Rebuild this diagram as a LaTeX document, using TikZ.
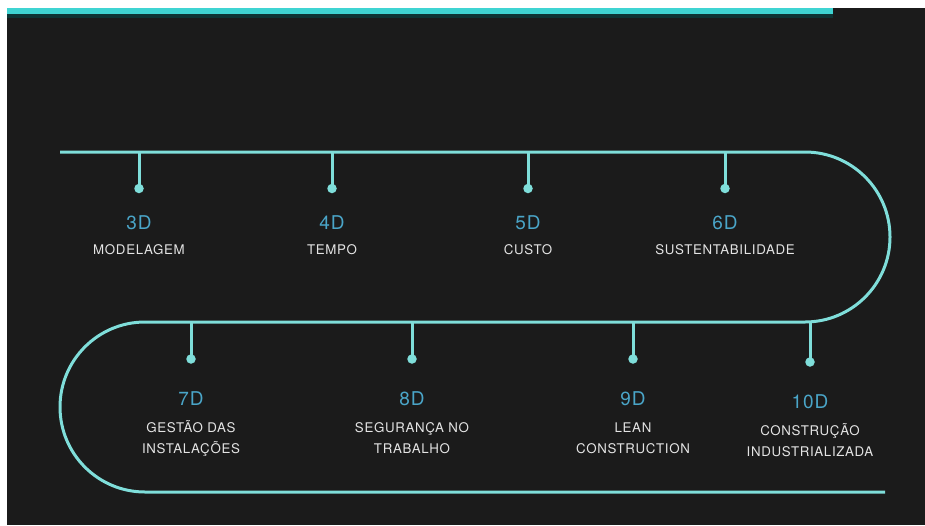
\documentclass[tikz,border=0pt]{standalone}
\usepackage{fontspec}
\setmainfont{TeX Gyre Heros}[LetterSpace=5]
\definecolor{bgdark}{HTML}{1B1B1B}
\definecolor{barcyan}{HTML}{3FD4D2}
\definecolor{barshadow}{HTML}{0E3434}
\definecolor{linecyan}{HTML}{7FDEDA}
\definecolor{numblue}{HTML}{4AA5C8}
\definecolor{labelgrey}{HTML}{E4E4E4}
\tikzset{
  track/.style={draw=linecyan, line width=3pt},
  tick/.style={draw=linecyan, line width=3pt},
  dotnode/.style={circle, fill=linecyan, inner sep=0pt, minimum size=9.5pt},
  numlabel/.style={anchor=base, inner sep=0pt, text=numblue, font=\fontsize{19}{21}\selectfont},
  namelabel/.style={anchor=base, inner sep=0pt, text=labelgrey, align=center, font=\fontsize{13.3}{21}\selectfont},
}
\begin{document}
\begin{tikzpicture}[x=1pt, y=-1pt]
\useasboundingbox (0,0) rectangle (925,525);
\fill[white] (0,0) rectangle (925,525);
\fill[bgdark] (7,8) rectangle (925,525);
\fill[barshadow] (7,14) rectangle (833,17.5);
\fill[barcyan] (7,8) rectangle (833,14);
% main track
\draw[track] (60,152) -- (805,152) arc[start angle=-90, end angle=90, radius=85]
  -- (145,322) arc[start angle=-90, end angle=-270, radius=85] -- (885,492);
% top row
\foreach \n/\x/\num/\lab in {a/139/3D/MODELAGEM, b/332/4D/TEMPO, c/528/5D/CUSTO, d/725/6D/SUSTENTABILIDADE}{
  \coordinate (top\n) at (\x,152);
  \node[dotnode] (dot\n) at (\x,188.5) {};
  \draw[tick] (top\n) -- (dot\n.center);
  \node[numlabel] (num\n) at (\x,229) {\num};
  \node[namelabel] (lab\n) at (\x,254.5) {\lab};
}
% bottom row (name base = last line baseline)
\foreach \n/\x/\dy/\ny/\ly/\num/\lab in {
  e/191/359/405.5/453/7D/{GESTÃO DAS\\INSTALAÇÕES},
  f/412/359/405.5/453.5/8D/{SEGURANÇA NO\\TRABALHO},
  g/633/359/405.5/453/9D/{LEAN\\CONSTRUCTION},
  h/810/362/408.5/456.5/10D/{CONSTRUÇÃO\\INDUSTRIALIZADA}}{
  \coordinate (top\n) at (\x,322);
  \node[dotnode] (dot\n) at (\x,\dy) {};
  \draw[tick] (top\n) -- (dot\n.center);
  \node[numlabel] (num\n) at (\x,\ny) {\num};
  \node[namelabel] (lab\n) at (\x,\ly) {\lab};
}
\end{tikzpicture}
\end{document}
